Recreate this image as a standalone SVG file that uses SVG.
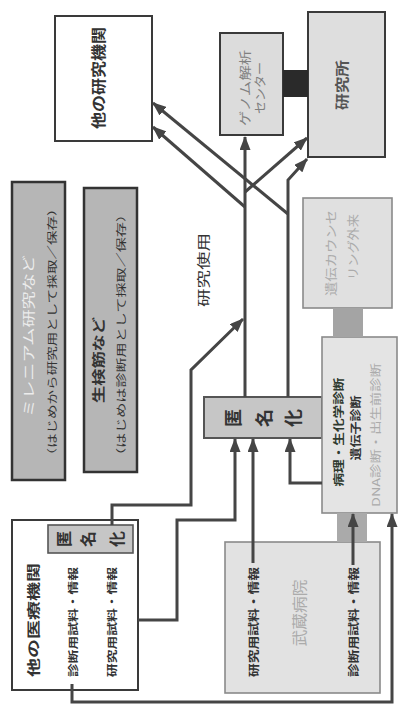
<svg xmlns="http://www.w3.org/2000/svg" width="399" height="706" viewBox="0 0 399 706">
<defs>
<style>
.t{font-family:"Noto Sans CJK JP","Noto Sans",sans-serif;text-anchor:middle;dominant-baseline:central}
.b{font-weight:bold}
.dk{stroke:#3a3a3a;stroke-width:2}
.lt{stroke:#8a8a8a;stroke-width:1.6}
.c{fill:none;stroke:#454545;stroke-width:3;marker-end:url(#ah)}
</style>
<marker id="ah" viewBox="0 0 14 11" refX="13" refY="5.5" markerWidth="14" markerHeight="11" markerUnits="userSpaceOnUse" orient="auto">
<path d="M0,0 L14,5.5 L0,11 z" fill="#454545"/>
</marker>
</defs>
<rect width="399" height="706" fill="#fff"/>

<g id="other-research">
<rect x="55" y="16" width="97" height="125" fill="#fff" class="dk"/>
<text class="t b" font-size="15" fill="#333" textLength="102" lengthAdjust="spacingAndGlyphs" transform="translate(97,78) rotate(-90)">他の研究機関</text>
</g>

<g id="genome">
<rect x="220" y="33" width="63" height="102" fill="#dcdcdc" class="dk"/>
<text class="t" font-size="12" fill="#808080" textLength="76" lengthAdjust="spacingAndGlyphs" transform="translate(244,88) rotate(-90)">ゲノム解析</text>
<text class="t" font-size="12" fill="#808080" textLength="52" lengthAdjust="spacingAndGlyphs" transform="translate(259,88) rotate(-90)">センター</text>
</g>

<g id="lab">
<rect x="308" y="12" width="77" height="145" fill="#dedede" class="dk"/>
<text class="t b" font-size="14" fill="#555" textLength="50" lengthAdjust="spacingAndGlyphs" transform="translate(341,85) rotate(-90)">研究所</text>
</g>

<g id="millennium">
<rect x="12" y="182" width="53" height="298" fill="#b6b6b6" stroke="#333" stroke-width="2.5"/>
<text class="t" font-size="13" fill="#ececec" textLength="162" lengthAdjust="spacingAndGlyphs" transform="translate(27,336) rotate(-90)">ミレニアム研究など</text>
<text class="t" font-size="10" fill="#333" textLength="261" lengthAdjust="spacingAndGlyphs" transform="translate(51,332) rotate(-90)">（はじめから研究用として採取／保存）</text>
</g>

<g id="biopsy">
<rect x="84" y="188" width="53" height="284" fill="#b6b6b6" stroke="#333" stroke-width="2.5"/>
<text class="t b" font-size="13" fill="#333" textLength="86" lengthAdjust="spacingAndGlyphs" transform="translate(97,360) rotate(-90)">生検筋など</text>
<text class="t" font-size="10" fill="#333" textLength="256" lengthAdjust="spacingAndGlyphs" transform="translate(120,335) rotate(-90)">（はじめは診断用として採取／保存）</text>
</g>

<g id="anonymize">
<rect x="204" y="397" width="118" height="41" fill="#c6c6c6" stroke="#555" stroke-width="2"/>
<text class="t b" font-size="18" fill="#333" style="dominant-baseline:auto;text-anchor:start" x="240 271 300" y="427" rotate="-90">匿名化</text>
</g>

<g id="diagnosis">
<rect x="322" y="337" width="75" height="176" fill="#e4e4e4" class="lt"/>
<text class="t b" font-size="11" fill="#2f3a2f" textLength="109" lengthAdjust="spacingAndGlyphs" transform="translate(338,432) rotate(-90)">病理・生化学診断</text>
<text class="t b" font-size="11" fill="#333" textLength="65" lengthAdjust="spacingAndGlyphs" transform="translate(355,428) rotate(-90)">遺伝子診断</text>
<text class="t" font-size="11" fill="#ababab" textLength="144" lengthAdjust="spacingAndGlyphs" transform="translate(375,435) rotate(-90)">DNA診断・出生前診断</text>
</g>

<g id="counseling">
<rect x="303" y="198" width="89" height="110" fill="#e0e0e0" class="lt"/>
<text class="t" font-size="12" fill="#ababab" textLength="86" lengthAdjust="spacingAndGlyphs" transform="translate(330,253) rotate(-90)">遺伝カウンセ</text>
<text class="t" font-size="12" fill="#ababab" textLength="66" lengthAdjust="spacingAndGlyphs" transform="translate(352,247) rotate(-90)">リング外来</text>
</g>

<g id="hospital">
<rect x="225" y="542" width="155" height="151" fill="#e2e2e2" class="lt"/>
<text class="t b" font-size="11" fill="#333" textLength="110" lengthAdjust="spacingAndGlyphs" transform="translate(253,622) rotate(-90)">研究用試料・情報</text>
<text class="t" font-size="15" fill="#ababab" textLength="67" lengthAdjust="spacingAndGlyphs" transform="translate(298,613) rotate(-90)">武蔵病院</text>
<text class="t b" font-size="11" fill="#333" textLength="110" lengthAdjust="spacingAndGlyphs" transform="translate(353,622) rotate(-90)">診断用試料・情報</text>
</g>

<g id="other-medical">
<rect x="12" y="520" width="126" height="170" fill="#fff" class="dk"/>
<text class="t b" font-size="13" fill="#333" textLength="114" lengthAdjust="spacingAndGlyphs" transform="translate(32,620) rotate(-90)">他の医療機関</text>
<text class="t b" font-size="10" fill="#333" textLength="110" lengthAdjust="spacingAndGlyphs" transform="translate(72,622) rotate(-90)">診断用試料・情報</text>
<text class="t b" font-size="10" fill="#333" textLength="110" lengthAdjust="spacingAndGlyphs" transform="translate(111,622) rotate(-90)">研究用試料・情報</text>
</g>

<g id="anonymize-small">
<rect x="48" y="525" width="85" height="28" fill="#c6c6c6" stroke="#555" stroke-width="1.6"/>
<text class="t b" font-size="16" fill="#333" style="dominant-baseline:auto;text-anchor:start" x="70 94 123" y="547" rotate="-90">匿名化</text>
</g>

<g id="connectors">
<rect x="283" y="70" width="25" height="27" fill="#2a2a2a"/>
<rect x="333" y="308" width="30" height="29" fill="#a4a4a4"/>
<rect x="337" y="513" width="30" height="29" fill="#aaaaaa"/>
<path class="c" d="M112,525 V505 H191 V370 L243,319"/>
<path class="c" d="M138,620 H177 V520 H235 V439"/>
<path class="c" d="M253,563 V439"/>
<path class="c" d="M353,565 V514"/>
<path class="c" d="M72,684 V702 H392 V514"/>
<path class="c" d="M322,483 H290 V439"/>
<path class="c" d="M245,397 V137"/>
<path class="c" d="M288,397 V180 L307,159"/>
<path class="c" d="M245,192 L307,138"/>
<path class="c" d="M245,207 L153,127"/>
<path class="c" d="M288,214 L153,103"/>
<text class="t" font-size="13" fill="#333" textLength="74" lengthAdjust="spacingAndGlyphs" transform="translate(202,270) rotate(-90)">研究使用</text>
</g>
</svg>
